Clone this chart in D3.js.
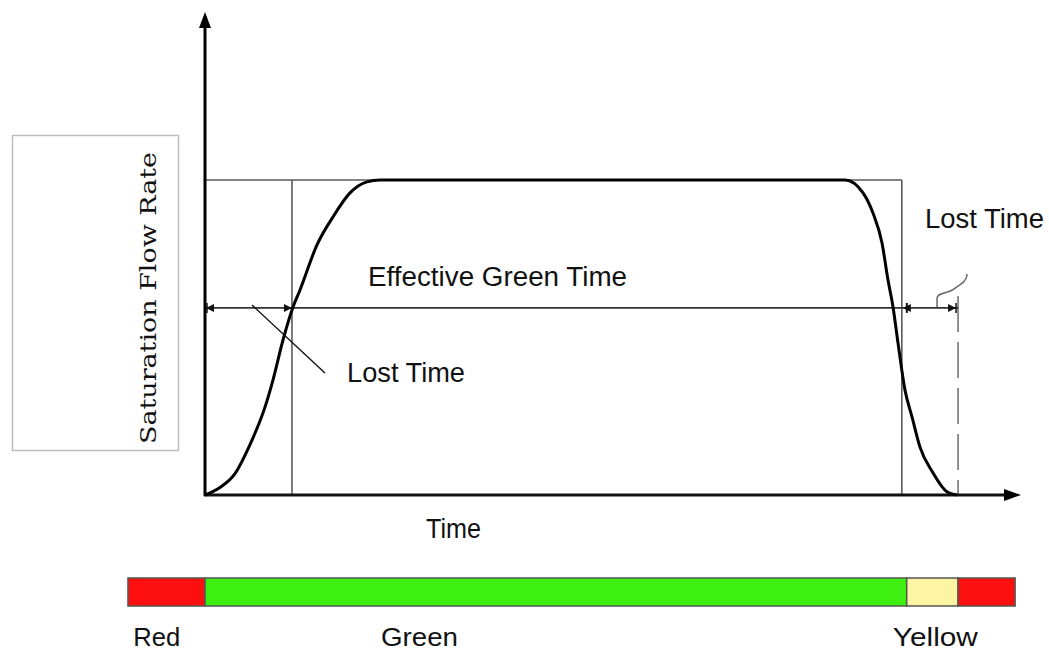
<!DOCTYPE html>
<html>
<head>
<meta charset="utf-8">
<script src="https://cdn.jsdelivr.net/npm/d3@7"></script>
<style>
  body { margin: 0; background: #fff; }
  text { font-family: 'Liberation Sans', Arial, sans-serif; fill: #111; }
</style>
</head>
<body>
<div id="chart"></div>
<script>
// discharge curve (time units, flow as fraction of saturation)
const curveTime = [0, 1.84, 3.68, 5.52, 7.36, 8.34, 9.57, 10.8, 11.66, 13.74, 15.71, 17.79, 19.88, 21.47,
  50,
  78.53, 80.74, 81.96, 83.07, 83.8, 84.42, 85.03, 85.89, 86.75, 87.73, 89.33, 91.04, 92.27];
const curveFlow = [0, 0.024, 0.068, 0.16, 0.279, 0.365, 0.492, 0.597, 0.651, 0.794, 0.883, 0.959, 0.994, 1,
  1,
  1, 0.959, 0.895, 0.8, 0.683, 0.597, 0.483, 0.333, 0.248, 0.152, 0.07, 0.01, 0];

// signal phases along the bottom bar
const phaseNames = ['Red', 'Green', 'Yellow', 'Red'];
const phaseStart = [-9.45, 0, 86.1, 92.4];
const phaseEnd = [0, 86.1, 92.4, 99.4];
const phaseLabels = ['Red', 'Green', 'Yellow'];
const phaseLabelTime = [-8.8, 21.6, 84.4];

// key times / levels
const effStart = 10.67;
const effEnd = 85.5;
const yellowEnd = 92.4;
const satFlow = 1.0;
const midLevel = 0.594;

const phaseColor = { Red: '#fb0f0f', Green: '#3ef012', Yellow: '#fdf5a4' };

const width = 1049, height = 651;
const svg = d3.select('#chart').append('svg')
  .attr('width', width)
  .attr('height', height);

const x = d3.scaleLinear().domain([0, 100]).range([205, 1020]);
const y = d3.scaleLinear().domain([0, 1]).range([495, 180]);

// y label box
svg.append('rect')
  .attr('x', 12.5).attr('y', 135.5)
  .attr('width', 166).attr('height', 315)
  .attr('fill', 'none')
  .attr('stroke', '#bdbdbd')
  .attr('stroke-width', 1.5);

svg.append('text')
  .attr('transform', 'translate(156,298) rotate(-90)')
  .attr('text-anchor', 'middle')
  .style('font-family', "'DejaVu Serif', serif")
  .style('font-size', '22px')
  .attr('textLength', 292)
  .attr('lengthAdjust', 'spacingAndGlyphs')
  .text('Saturation Flow Rate');

// reference rectangle lines
const thin = '#5a5a5a';
svg.append('line')
  .attr('x1', x(0)).attr('x2', x(effEnd))
  .attr('y1', y(satFlow)).attr('y2', y(satFlow))
  .attr('stroke', thin).attr('stroke-width', 1.6);
[effStart, effEnd].forEach(t => {
  svg.append('line')
    .attr('x1', x(t)).attr('x2', x(t))
    .attr('y1', y(satFlow)).attr('y2', y(0))
    .attr('stroke', thin).attr('stroke-width', 1.6);
});

// dashed end of yellow
svg.append('line')
  .attr('x1', x(yellowEnd)).attr('x2', x(yellowEnd))
  .attr('y1', y(midLevel) - 12).attr('y2', y(0))
  .attr('stroke', '#777').attr('stroke-width', 1.6)
  .attr('stroke-dasharray', '36,10');

// effective green horizontal line
svg.append('line')
  .attr('x1', x(0)).attr('x2', x(yellowEnd))
  .attr('y1', y(midLevel)).attr('y2', y(midLevel))
  .attr('stroke', '#333').attr('stroke-width', 1.6);

function arrowHead(px, py, dir) {
  const l = 8, h = 4;
  svg.append('path')
    .attr('d', `M${px},${py} L${px - dir * l},${py - h} L${px - dir * l},${py + h} Z`)
    .attr('fill', '#111');
}
const ym = y(midLevel);
arrowHead(x(0) + 1, ym, -1);
svg.append('line').attr('x1', x(0) + 2).attr('x2', x(0) + 2).attr('y1', ym - 5).attr('y2', ym + 5)
  .attr('stroke', '#111').attr('stroke-width', 1.5);
arrowHead(x(effStart), ym, 1);
arrowHead(x(effEnd) + 1, ym, -1);
svg.append('line').attr('x1', x(effEnd) + 5).attr('x2', x(effEnd) + 5).attr('y1', ym - 5).attr('y2', ym + 5)
  .attr('stroke', '#111').attr('stroke-width', 2);
arrowHead(x(yellowEnd) - 2, ym, 1);
svg.append('line').attr('x1', x(yellowEnd) - 2).attr('x2', x(yellowEnd) - 2).attr('y1', ym - 5).attr('y2', ym + 5)
  .attr('stroke', '#111').attr('stroke-width', 1.5);

// small brace above the lost-time interval
const bx = x(yellowEnd), by = ym;
svg.append('path')
  .attr('d', `M${bx - 21},${by - 1} L${bx - 21},${by - 10} C${bx - 20},${by - 16} ${bx - 10},${by - 14} ${bx - 4},${by - 19}
              C${bx + 3},${by - 24} ${bx + 9},${by - 27} ${bx + 9},${by - 34}`)
  .attr('fill', 'none').attr('stroke', '#666').attr('stroke-width', 1.5);

// axes
svg.append('line')
  .attr('x1', x(0)).attr('x2', x(0))
  .attr('y1', y(0) + 1).attr('y2', 24)
  .attr('stroke', '#000').attr('stroke-width', 3);
svg.append('path')
  .attr('d', `M${x(0)},12 L${x(0) - 6},28 L${x(0) + 6},28 Z`)
  .attr('fill', '#000');
svg.append('line')
  .attr('x1', x(0) - 1).attr('x2', 1008)
  .attr('y1', y(0)).attr('y2', y(0))
  .attr('stroke', '#111').attr('stroke-width', 3);
svg.append('path')
  .attr('d', `M1021,${y(0)} L1004,${y(0) - 6} L1004,${y(0) + 6} Z`)
  .attr('fill', '#000');

// discharge curve
const curveData = curveTime.map((t, i) => ({ t: t, f: curveFlow[i] }));
const line = d3.line()
  .x(d => x(d.t))
  .y(d => y(d.f))
  .curve(d3.curveMonotoneX);
svg.append('path')
  .datum(curveData)
  .attr('d', line)
  .attr('fill', 'none')
  .attr('stroke', '#000')
  .attr('stroke-width', 3);

// pointer line for lost time
svg.append('line')
  .attr('x1', x(5.77)).attr('y1', y(0.603))
  .attr('x2', x(14.72)).attr('y2', y(0.387))
  .attr('stroke', '#111').attr('stroke-width', 1.4);

// annotation text
function label(txt, px, py, len, size) {
  svg.append('text').attr('x', px).attr('y', py)
    .style('font-size', size + 'px')
    .attr('textLength', len)
    .attr('lengthAdjust', 'spacingAndGlyphs')
    .text(txt);
}
label('Effective Green Time', 368, 286, 259, 27);
label('Lost Time', 347, 382, 118, 28);
label('Lost Time', 925, 228, 119, 27);
label('Time', 426, 538, 55, 28);

// phase bar
const barY = 578, barH = 28;
svg.selectAll('rect.phase')
  .data(phaseNames)
  .enter().append('rect')
  .attr('class', 'phase')
  .attr('x', (d, i) => x(phaseStart[i]))
  .attr('y', barY)
  .attr('width', (d, i) => x(phaseEnd[i]) - x(phaseStart[i]))
  .attr('height', barH)
  .attr('fill', d => phaseColor[d])
  .attr('stroke', '#555')
  .attr('stroke-width', 1.5);

const phaseLabelLen = [47, 77, 85];
svg.selectAll('text.phase')
  .data(phaseLabels)
  .enter().append('text')
  .attr('class', 'phase')
  .attr('x', (d, i) => x(phaseLabelTime[i]))
  .attr('y', 646)
  .style('font-size', '25px')
  .attr('textLength', (d, i) => phaseLabelLen[i])
  .attr('lengthAdjust', 'spacingAndGlyphs')
  .text(d => d);
</script>
</body>
</html>
